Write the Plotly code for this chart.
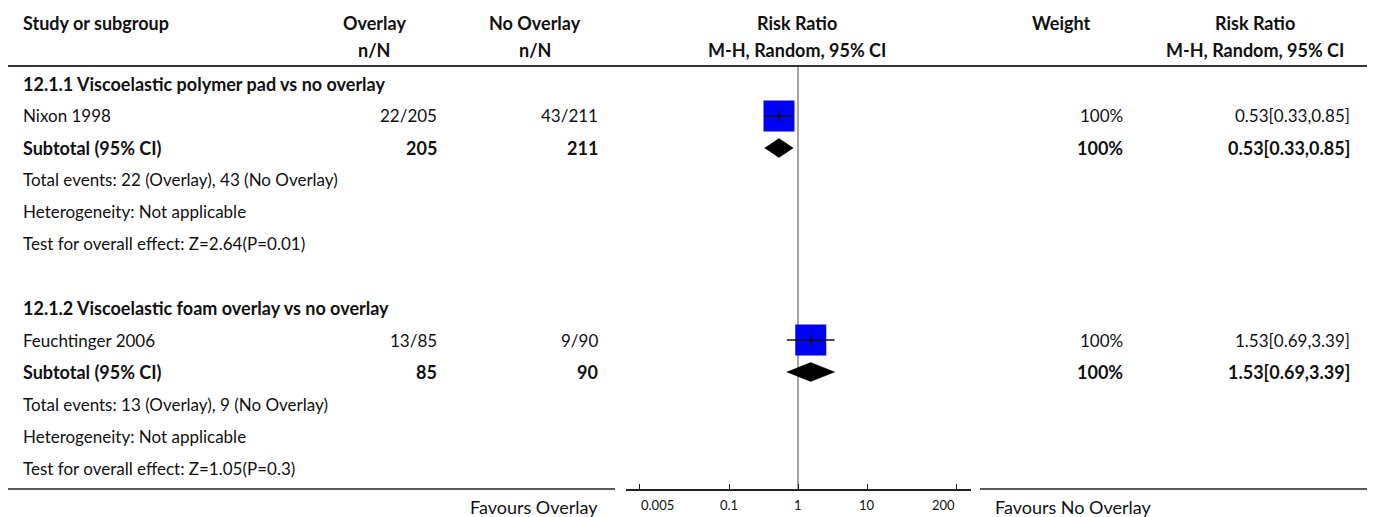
import numpy as np
import plotly.graph_objects as go

# ---------------- data ----------------
group_titles = ["12.1.1 Viscoelastic polymer pad vs no overlay",
                "12.1.2 Viscoelastic foam overlay vs no overlay"]
study_names = ["Nixon 1998", "Feuchtinger 2006"]
overlay_events = [22, 13]
overlay_total = [205, 85]
no_overlay_events = [43, 9]
no_overlay_total = [211, 90]
study_rr = [0.53, 1.53]
study_lo = [0.33, 0.69]
study_hi = [0.85, 3.39]
study_weight = [100, 100]
subtotal_rr = [0.53, 1.53]
subtotal_lo = [0.33, 0.69]
subtotal_hi = [0.85, 3.39]
subtotal_weight = [100, 100]
heterogeneity = ["Not applicable", "Not applicable"]
z_values = ["2.64", "1.05"]
p_values = ["0.01", "0.3"]
tick_values = [0.005, 0.1, 1, 10, 200]
header_top = ["Study or subgroup", "Overlay", "No Overlay", "Risk Ratio", "Weight", "Risk Ratio"]
header_bottom = ["", "n/N", "n/N", "M-H, Random, 95% CI", "", "M-H, Random, 95% CI"]
label_left = "Favours Overlay"
label_right = "Favours No Overlay"

# ---------------- layout constants ----------------
OFF = 8                      # page body margin of the html page
W, H = 1375 - OFF, 517 - OFF  # figure size so that it fits the window
FONT = "Lato"
FS = 17
FS_B = 18
TXT = "#111111"
row_top_px, row_step_px = 84, 32
y_top_px, y_bot_px = 66, 489
forest_l, forest_r = 625.5, 970.5
rows_per_group = 7
y_lo = (y_bot_px - row_top_px) / row_step_px
y_hi = (y_top_px - row_top_px) / row_step_px


def px(x):
    return (x - OFF) / W


def py(y):
    return 1 - (y - OFF) / H


fig = go.Figure()

# reference line at RR = 1
fig.add_trace(go.Scatter(x=[1, 1], y=[y_hi, y_lo], mode="lines",
                         line=dict(color="#a6a6a6", width=2), hoverinfo="skip"))

annotations = []


def text(x, y, s, anchor="left", bold=False, yref="y", size=None, xref="paper"):
    if size is None:
        size = FS_B if bold else FS
    annotations.append(dict(
        x=x, y=y, xref=xref, yref=yref, text=f"<b>{s}</b>" if bold else s,
        showarrow=False, xanchor=anchor, yanchor="middle",
        font=dict(family=FONT, size=size, color=TXT)))


# headers
col_x = [21, 374, 535, 797, 1061, 1255]
for i, (t, b) in enumerate(zip(header_top, header_bottom)):
    anc = "left" if i == 0 else "center"
    text(px(col_x[i]), py(23), t, anchor=anc, bold=True, yref="paper")
    if b:
        text(px(col_x[i]), py(50), b, anchor=anc, bold=True, yref="paper")

X_NAME, X_OV, X_NOV, X_W, X_RR = 21, 439, 600, 1125, 1352
diamond_half = 9.5 / row_step_px

for g in range(len(group_titles)):
    base = g * rows_per_group
    r_title, r_study, r_sub, r_ev, r_het, r_test = [base + k for k in range(6)]

    text(px(X_NAME), r_title, group_titles[g], bold=True)
    text(px(X_NAME), r_study, study_names[g])
    text(px(X_OV), r_study, f"{overlay_events[g]}/{overlay_total[g]}", anchor="right")
    text(px(X_NOV), r_study, f"{no_overlay_events[g]}/{no_overlay_total[g]}", anchor="right")
    text(px(X_W), r_study, f"{study_weight[g]}%", anchor="right")
    text(px(X_RR), r_study, f"{study_rr[g]:.2f}[{study_lo[g]:.2f},{study_hi[g]:.2f}]", anchor="right")

    text(px(X_NAME), r_sub, "Subtotal (95% CI)", bold=True)
    text(px(X_OV), r_sub, f"{overlay_total[g]}", anchor="right", bold=True)
    text(px(X_NOV), r_sub, f"{no_overlay_total[g]}", anchor="right", bold=True)
    text(px(X_W), r_sub, f"{subtotal_weight[g]}%", anchor="right", bold=True)
    text(px(X_RR), r_sub, f"{subtotal_rr[g]:.2f}[{subtotal_lo[g]:.2f},{subtotal_hi[g]:.2f}]",
         anchor="right", bold=True)

    text(px(X_NAME), r_ev, f"Total events: {overlay_events[g]} (Overlay), {no_overlay_events[g]} (No Overlay)")
    text(px(X_NAME), r_het, f"Heterogeneity: {heterogeneity[g]}")
    text(px(X_NAME), r_test, f"Test for overall effect: Z={z_values[g]}(P={p_values[g]})")

    # study square
    fig.add_trace(go.Scatter(x=[study_rr[g]], y=[r_study], mode="markers",
                             marker=dict(symbol="square", size=31 * study_weight[g] / 100,
                                         color="#0000ff", line=dict(width=0)),
                             hoverinfo="skip"))
    # CI line
    fig.add_trace(go.Scatter(x=[study_lo[g], study_hi[g]], y=[r_study, r_study], mode="lines",
                             line=dict(color="#111111", width=1.5), hoverinfo="skip"))
    # point tick
    fig.add_trace(go.Scatter(x=[study_rr[g]], y=[r_study], mode="markers",
                             marker=dict(symbol="line-ns", size=9,
                                         line=dict(color="#111111", width=1.5)),
                             hoverinfo="skip"))
    # subtotal diamond
    fig.add_trace(go.Scatter(
        x=[subtotal_lo[g], subtotal_rr[g], subtotal_hi[g], subtotal_rr[g], subtotal_lo[g]],
        y=[r_sub, r_sub - diamond_half, r_sub, r_sub + diamond_half, r_sub],
        mode="lines", fill="toself", fillcolor="#000000",
        line=dict(color="#000000", width=0.5), hoverinfo="skip"))

# tick labels (end labels aligned inward)
for k, v in enumerate(tick_values):
    anc = "left" if k == 0 else ("right" if k == len(tick_values) - 1 else "center")
    text(float(np.log10(v)), py(505), f"{v:g}", anchor=anc, yref="paper", size=13, xref="x")

text(px(600), py(507), label_left, anchor="right", yref="paper", size=18)
text(px(993), py(507), label_right, anchor="left", yref="paper", size=18)

shapes = [
    dict(type="line", xref="paper", yref="paper", x0=px(8), x1=px(1367), y0=py(66), y1=py(66),
         line=dict(color="#333333", width=2)),
    dict(type="line", xref="paper", yref="paper", x0=px(8), x1=px(615), y0=py(489), y1=py(489),
         line=dict(color="#222222", width=1.5)),
    dict(type="line", xref="paper", yref="paper", x0=px(980), x1=px(1367), y0=py(489), y1=py(489),
         line=dict(color="#222222", width=1.5)),
]

fig.update_layout(
    width=W, height=H, margin=dict(l=0, r=0, t=0, b=0),
    paper_bgcolor="white", plot_bgcolor="white", showlegend=False,
    annotations=annotations, shapes=shapes,
    xaxis=dict(type="log", range=[-2.5, 2.5], domain=[px(forest_l), px(forest_r)],
               showgrid=False, zeroline=False, showline=True, linecolor="#222222", linewidth=1.5,
               ticks="inside", ticklen=5, tickcolor="#222222", tickwidth=1,
               tickvals=tick_values, showticklabels=False, fixedrange=True),
    yaxis=dict(range=[y_lo, y_hi], domain=[py(y_bot_px), py(y_top_px)], visible=False,
               fixedrange=True),
)

fig.write_html("out.html")
